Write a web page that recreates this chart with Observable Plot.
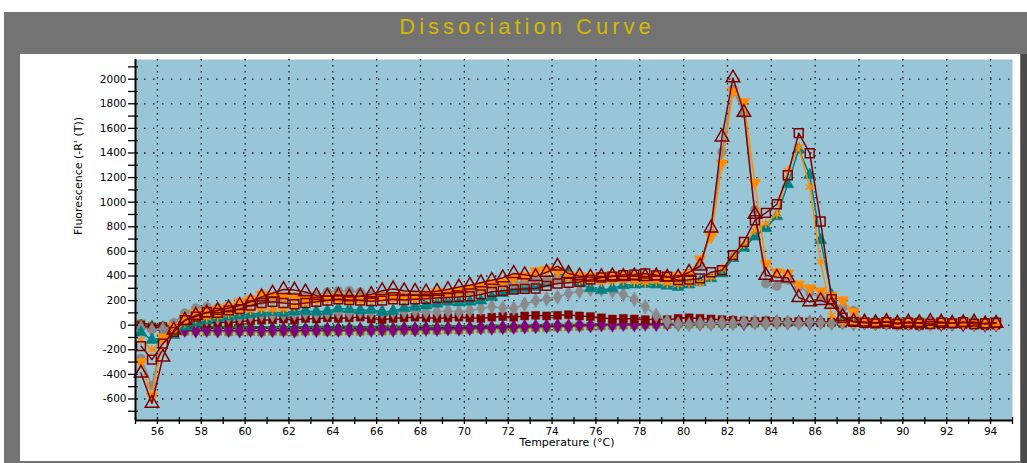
<!DOCTYPE html>
<html><head><meta charset="utf-8">
<script src="https://cdn.jsdelivr.net/npm/d3@7"></script>
<script src="https://cdn.jsdelivr.net/npm/@observablehq/plot@0.6"></script>
<style>
html,body{margin:0;padding:0;background:#fff;width:1027px;height:463px;overflow:hidden;}
#outer{position:absolute;left:4px;top:12px;width:1023px;height:451px;background:#737373;}
#edge{position:absolute;left:1017px;top:42px;width:6px;height:409px;background:#4a4a4a;}
#title{position:absolute;left:0;top:2px;width:1046px;text-align:center;font-family:"Liberation Sans",Arial,sans-serif;font-size:22px;color:#d2b900;letter-spacing:4px;white-space:nowrap;}
#panel{position:absolute;left:16px;top:42px;width:1000px;height:407px;background:#fff;}
#panel svg{display:block;}
</style></head>
<body>
<div id="outer"><div id="title">Dissociation Curve</div><div id="edge"></div><div id="panel"></div></div>
<script>
const title = "Dissociation Curve";
const xLabel = "Temperature (°C)";
const yLabel = "Fluorescence (-R' (T))";
const xMajor = [56,58,60,62,64,66,68,70,72,74,76,78,80,82,84,86,88,90,92,94];
const xMinor = [55,57,59,61,63,65,67,69,71,73,75,77,79,81,83,85,87,89,91,93,95];
const yMajor = [-600,-400,-200,0,200,400,600,800,1000,1200,1400,1600,1800,2000];
const yMinor = [-700,-500,-300,-100,100,300,500,700,900,1100,1300,1500,1700,1900,2100];

const temps = [
55.25,55.75,56.25,56.75,57.25,57.75,58.25,58.75,59.25,59.75,
60.25,60.75,61.25,61.75,62.25,62.75,63.25,63.75,64.25,64.75,
65.25,65.75,66.25,66.75,67.25,67.75,68.25,68.75,69.25,69.75,
70.25,70.75,71.25,71.75,72.25,72.75,73.25,73.75,74.25,74.75,
75.25,75.75,76.25,76.75,77.25,77.75,78.25,78.75,79.25,79.75,
80.25,80.75,81.25,81.75,82.25,82.75,83.25,83.75,84.25,84.75,
85.25,85.75,86.25,86.75,87.25,87.75,88.25,88.75,89.25,89.75,
90.25,90.75,91.25,91.75,92.25,92.75,93.25,93.75,94.25];

// peak ~82.3 °C
const redTriangle = [
-390,-635,-260,-40,40,80,100,120,140,160,
190,230,260,290,285,270,240,235,240,230,
235,250,280,295,280,275,270,275,290,310,
325,345,365,385,420,410,395,430,480,420,
400,390,395,400,395,400,395,400,390,390,
430,480,790,1530,2010,1730,900,405,390,385,
225,190,200,170,70,30,25,20,30,15,
25,20,30,25,15,20,25,10,15];
const orangeDown = [
-300,-580,-100,-10,60,100,110,130,150,190,
210,250,240,235,230,215,210,220,230,220,
215,220,230,240,235,230,250,270,265,275,
300,310,340,350,380,400,440,450,440,405,
400,395,400,405,400,395,390,395,390,400,
420,537,718,1315,1900,1815,1157,500,433,420,
331,300,276,240,203,108,30,20,25,15,
20,25,15,20,25,20,15,20,10];
const grayCircle = [
-270,-490,-90,20,100,140,150,140,150,170,
190,200,210,220,230,225,240,270,280,280,
270,250,240,230,235,240,245,255,260,270,
280,290,320,330,340,350,360,370,380,385,
390,385,390,390,395,390,385,395,390,400,
420,488,748,1409,1920,1720,940,339,317,366,
311,263,230,190,140,120,30,20,15,25,
20,15,25,20,15,20,10,15,20];
// peak ~85.2 °C
const redSquare = [
-170,-280,-150,-55,40,70,105,100,120,130,
160,180,190,180,170,180,190,200,210,205,
200,195,200,210,205,210,215,220,225,230,
235,250,271,280,290,295,298,320,339,345,
352,370,388,395,407,410,420,405,395,366,
370,380,430,447,569,677,853,913,983,1219,
1561,1398,843,211,60,27,20,15,25,10,
20,15,10,20,15,25,10,15,20];
const tealTriangle = [
-60,-120,-100,-80,-10,20,40,60,70,80,
90,100,108,100,110,116,110,115,136,130,
120,125,108,115,140,149,160,175,190,185,
190,200,230,260,285,300,310,340,400,430,
340,300,285,300,325,330,335,330,320,311,
330,352,381,420,545,630,720,789,886,1146,
1428,1220,691,244,30,20,15,20,10,25,
15,20,10,25,15,20,10,15,20];
const orangeStar = [
-120,-200,-120,-60,20,50,60,70,90,110,
120,130,125,130,150,180,200,210,200,190,
200,210,215,205,210,225,235,240,250,260,
270,290,310,325,340,355,360,370,360,370,
360,355,350,355,360,350,345,355,340,330,
339,345,390,460,560,660,772,827,902,1260,
1450,1124,515,81,20,15,20,10,25,15,
20,10,15,25,20,15,10,20,15];
// low / baseline wells
const grayDiamond = [
-20,-40,-30,0,20,40,50,60,70,70,
80,90,85,90,95,100,95,100,105,100,
110,105,110,108,110,115,108,110,115,108,
120,136,150,140,136,170,200,215,230,260,
275,290,290,275,250,210,150,80,30,10,
5,15,10,20,15,25,20,15,25,20,
15,25,20,15,20,10,25,15,20,10,
20,15,10,20,15,25,10,15,20];
const redFilled = [
0,-20,-10,0,10,20,15,25,20,30,
35,40,45,50,40,55,50,60,55,60,
65,50,45,55,60,65,60,55,60,65,
60,55,65,70,65,75,80,75,80,85,
75,70,60,50,55,50,45,50,45,55,
60,55,50,45,40,35,30,35,30,25,
30,25,20,25,15,20,10,15,5,10,
0,-5,5,0,10,5,0,-5,0];
const purpleDiamond = [
-20,-30,-40,-45,-40,-45,-40,-45,-42,-45,
-40,-45,-42,-40,-45,-40,-42,-38,-40,-42,
-38,-40,-35,-38,-32,-35,-30,-32,-28,-30,
-25,-20,-22,-18,-15,-12,-10,-8,-5,-8,
0,-3,5,2,8,5,10,8,12,10,
15,12,18,15,20,15,22,18,25,20,
22,18,25,20,22,18,20,15,18,12,
15,10,12,8,10,5,8,2,5];
const oliveSquare = [
10,-10,-30,-45,-50,-48,-52,-50,-55,-50,
-52,-55,-50,-52,-55,-50,-48,-52,-50,-48,
-50,-45,-48,-45,-42,-45,-40,-42,-38,-40,
-35,-32,-30,-28,-25,-22,-20,-18,-15,-12,
-10,-8,-5,-2,0,2,5,8,5,10,
8,12,10,15,12,18,15,20,18,22,
20,25,22,20,25,30,28,25,30,28,
25,30,28,25,22,25,20,22,18];
const navyCircle = [
20,0,-10,-20,-25,-20,-25,-22,-28,-25,
-22,-26,-24,-28,-25,-22,-26,-24,-20,-23,
-25,-22,-20,-24,-21,-18,-22,-20,-16,-19,
-15,-12,-15,-10,-12,-8,-10,-6,-8,-4,
-5,0,-3,2,0,4,2,5,3,6,
4,8,6,10,8,12,10,14,12,15,
13,16,14,17,15,18,16,14,17,15,
12,14,10,12,8,10,6,8,5];
const greenTriangle = [
10,5,0,-5,-10,-8,-12,-10,-14,-12,
-10,-15,-12,-10,-14,-12,-9,-13,-10,-8,
-12,-10,-7,-10,-6,-9,-5,-7,-3,-6,
-2,-4,0,-2,2,0,4,2,6,4,
8,6,10,8,12,10,14,12,15,13,
17,15,18,16,20,18,21,19,22,20,
23,21,24,22,25,23,26,24,22,25,
23,21,24,22,20,23,21,19,22];

// downward-pointing triangle symbol
const triangleDown = {
  draw(ctx, size) {
    const s = Math.sqrt(size / (Math.sqrt(3) / 4));
    const h = s * Math.sqrt(3) / 2;
    ctx.moveTo(0, h * 2 / 3);
    ctx.lineTo(s / 2, -h / 3);
    ctx.lineTo(-s / 2, -h / 3);
    ctx.closePath();
  }
};

// drawing order: bottom to top
const series = [
  {values: greenTriangle, color: "#008000", symbol: "triangle", r: 3, filled: true},
  {values: navyCircle, color: "#000080", symbol: "circle", r: 3, filled: true},
  {values: oliveSquare, color: "#808000", symbol: "square", r: 4.5, filled: true},
  {values: purpleDiamond, color: "#800080", symbol: "diamond", r: 4.5, filled: true},
  {values: redFilled, color: "#800000", symbol: "square", r: 4.5, filled: true},
  {values: grayDiamond, color: "#8a8a8a", symbol: "diamond", r: 4.5, filled: true},
  {values: tealTriangle, color: "#008080", symbol: "triangle", r: 4.5, filled: true},
  {values: orangeStar, color: "#ff8c00", symbol: "asterisk", r: 4.5, filled: false},
  {values: grayCircle, color: "#8a8a8a", symbol: "circle", r: 4.5, filled: true},
  {values: orangeDown, color: "#ff8c00", symbol: triangleDown, r: 4.5, filled: true},
  {values: redSquare, color: "#800000", symbol: "square", r: 5, filled: false},
  {values: redTriangle, color: "#800000", symbol: "triangle", r: 5, filled: false}
];

const xDom = [55, 95], yDom = [-775, 2160];
const pxX = (xDom[1] - xDom[0]) / 877;   // data units per pixel
const pxY = (yDom[1] - yDom[0]) / 361;

const marks = [
  Plot.frame({fill: "#99c6d6", stroke: null}),
  Plot.ruleX(xMajor, {stroke: "#1a1a1a", strokeDasharray: "1.5,4.5", strokeWidth: 1.3}),
  Plot.ruleY(yMajor, {stroke: "#1a1a1a", strokeDasharray: "1.5,7.5", strokeWidth: 1.3})
];
for (const s of series) {
  const rows = temps.map((t, i) => ({t, v: s.values[i]}));
  marks.push(Plot.line(rows, {x: "t", y: "v", stroke: s.color, strokeWidth: 1.5}));
  marks.push(Plot.dot(rows, {
    x: "t", y: "v", symbol: s.symbol, r: s.r,
    fill: s.filled ? s.color : "none",
    stroke: s.color, strokeWidth: s.filled ? 0.5 : 1.5
  }));
}
marks.push(
  Plot.ruleX([xDom[0]], {stroke: "#000", strokeWidth: 2}),
  Plot.ruleY([yDom[0]], {stroke: "#000", strokeWidth: 2}),
  Plot.ruleX(xMajor.concat(xMinor), {y1: yDom[0] - 4 * pxY, y2: yDom[0] + 3 * pxY, stroke: "#000", strokeWidth: 1.3}),
  Plot.ruleY(yMajor.concat(yMinor), {x1: xDom[0] - 7 * pxX, x2: xDom[0] + 3 * pxX, stroke: "#000", strokeWidth: 1.3}),
  Plot.axisX(xMajor, {tickSize: 0, tickPadding: 7, tickFormat: d => String(d), label: null, fontSize: 10.5}),
  Plot.axisY(yMajor, {tickSize: 0, tickPadding: 9, tickFormat: d => String(d), label: null, fontSize: 10.5}),
  Plot.text([xLabel], {frameAnchor: "bottom", dy: 25, dx: -7, fontSize: 11, fill: "#000"}),
  Plot.text([yLabel], {frameAnchor: "left", rotate: -90, dx: -57, dy: -5, fontSize: 11, fill: "#000"})
);

const chart = Plot.plot({
  width: 1000, height: 407,
  marginLeft: 115, marginRight: 8, marginTop: 5, marginBottom: 41,
  style: {background: "transparent", fontFamily: "'DejaVu Sans', Verdana, sans-serif", color: "#000"},
  x: {domain: xDom},
  y: {domain: yDom},
  marks
});
document.getElementById("panel").appendChild(chart);
document.getElementById("title").textContent = title;
</script>
</body></html>
